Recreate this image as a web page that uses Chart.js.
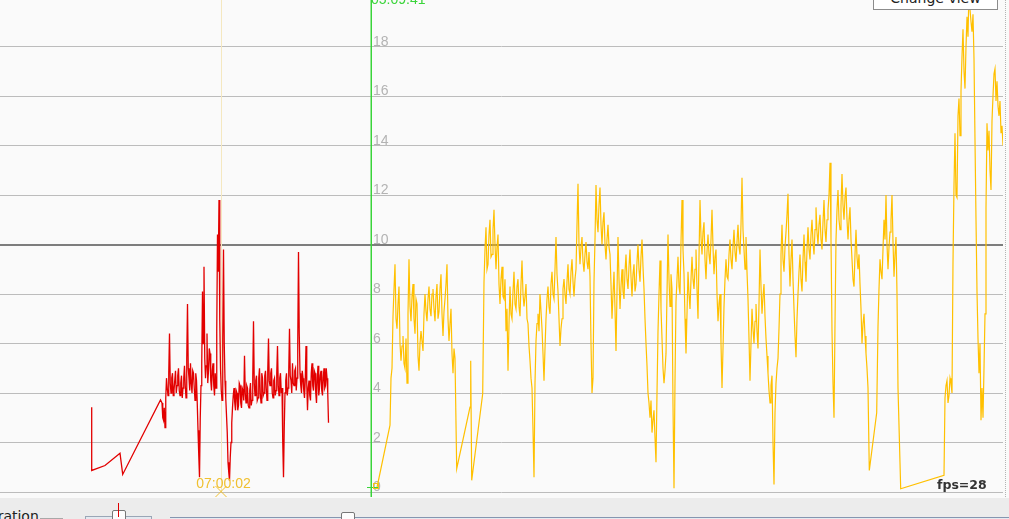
<!DOCTYPE html>
<html>
<head>
<meta charset="utf-8">
<script src="https://cdn.jsdelivr.net/npm/chart.js@4"></script>
<style>
  body { margin: 0; width: 1009px; height: 519px; overflow: hidden; position: relative; background: #fafafa; font-family: "DejaVu Sans", sans-serif; }
  #plot { position: absolute; left: 0; top: 0; }
  #rightEdge { position: absolute; left: 1005px; top: 0; height: 497px; border-left: 1px dotted #b4b4b4; }
  #changeView { position: absolute; left: 873px; top: -14px; width: 125px; height: 24px; box-sizing: border-box;
    border: 1px solid #8c8c8c; background: #fff; font-size: 14px; line-height: 22px; text-align: center; color: #222; }
  #bar { position: absolute; left: 0; top: 498px; width: 1009px; height: 21px; background: #ececec; overflow: hidden; }
  #bar .lbl { position: absolute; left: -22px; top: 10px; font-size: 14px; line-height: 16px; color: #222; white-space: nowrap; }
  #bar .grp { position: absolute; left: 40px; top: 20px; width: 23px; height: 1px; background: #a8a8a8; }
  #bar .box { position: absolute; left: 85px; top: 18px; width: 65px; height: 10px; border: 1px solid #9aa6b6; background: #e4e9f0; }
  #bar .track { position: absolute; left: 170px; top: 19px; width: 850px; height: 10px; border-top: 1px solid #8596b0; background: #e6eaf0; }
  #bar .thumb { position: absolute; width: 12px; height: 12px; border: 1px solid #777; border-radius: 2px; background: #fdfdfd; }
  #bar .mark { position: absolute; left: 118px; top: 5px; width: 1px; height: 14px; background: #e00000; }
</style>
</head>
<body>
<canvas id="plot" width="1009" height="498"></canvas>
<div id="rightEdge"></div>
<div id="changeView">Change view</div>
<div id="bar">
  <span class="lbl">Duration</span>
  <div class="grp"></div>
  <div class="box"></div>
  <div class="thumb" style="left:112px;top:12px"></div>
  <div class="mark"></div>
  <div class="track"></div>
  <div class="thumb" style="left:341px;top:14px"></div>
</div>
<script>
/**
 * Trace viewer snapshot - two recorded series over a time axis (minutes).
 */

// y grid values / tick labels
const Y_TICKS = [0, 2, 4, 6, 8, 10, 12, 14, 16, 18];
const Y_MAX = 19.88;
const T_MAX = 100.3;

// cursors
const GREEN_CURSOR_T = 37.1;
const GREEN_LABEL = '05:09:41';
const YELLOW_CURSOR_T = 22.05;
const YELLOW_LABEL = '07:00:02';
const FPS_TEXT = 'fps=28';

// red series: a few sparse points, then a busy stretch sampled every RED_DT minutes
const RED_LEAD_T = [9.17, 9.17, 10.5, 12.0, 12.27, 16.05];
const RED_LEAD_V = [3.42, 0.87, 1.07, 1.57, 0.71, 3.72];
const RED_T0 = 16.2;
const RED_DT = 0.075;
const redBusy = [
  3.6, 3.0, 2.9, 3.4, 2.6, 3.8, 4.6, 4.2, 3.9, 4.8,
  6.4, 4.4, 4.0, 4.6, 4.8, 3.9, 4.1, 4.5, 4.9, 4.0,
  4.3, 4.7, 5.0, 4.1, 3.9, 4.4, 4.7, 3.8, 4.2, 4.6,
  5.1, 4.3, 3.8, 5.4, 7.6, 5.0, 4.6, 4.1, 5.2, 4.4,
  4.0, 4.9, 4.8, 4.2, 3.7, 4.8, 4.5, 3.6, 2.5, 1.5,
  0.6, 3.0, 4.3, 5.2, 8.1, 6.0, 9.1, 5.4, 4.6, 5.1,
  6.4, 4.4, 4.9, 5.8, 5.6, 4.5, 4.1, 4.9, 5.2, 4.3,
  3.9, 4.8, 4.2, 6.5, 10.4, 8.9, 11.8, 7.0, 5.0, 4.1,
  3.7, 6.2, 9.8, 6.0, 4.5, 3.8, 3.1, 2.4, 1.2, 0.8,
  0.46, 1.4, 2.0, 2.8, 3.4, 3.9, 4.2, 3.6, 3.3, 4.1,
  4.0, 3.3, 3.5, 4.4, 4.3, 3.6, 3.4, 4.2, 4.1, 3.7,
  5.5, 4.0, 3.6, 4.3, 4.2, 3.5, 3.4, 4.1, 4.4, 3.5,
  3.7, 4.6, 6.9, 4.4, 3.9, 4.5, 4.7, 3.7, 3.8, 4.6,
  5.0, 4.0, 3.6, 4.8, 4.6, 3.9, 4.0, 4.7, 4.9, 4.2,
  3.7, 4.9, 6.2, 4.5, 4.3, 4.8, 5.0, 4.0, 3.8, 4.5,
  4.6, 3.9, 4.1, 4.8, 5.9, 4.3, 3.9, 4.6, 4.8, 4.0,
  4.2, 2.0, 0.6, 2.6, 4.0, 4.5, 4.8, 3.9, 4.2, 4.9,
  6.6, 4.7, 4.5, 4.0, 5.2, 4.4, 4.3, 4.9, 5.0, 4.1,
  4.6, 6.0, 9.7, 6.4, 4.8, 4.3, 4.0, 4.9, 4.6, 4.1,
  3.8, 4.5, 5.9, 4.4, 3.3, 4.2, 4.5, 3.9, 3.7, 4.8,
  5.2, 4.3, 4.1, 4.9, 4.8, 4.0, 3.6, 4.6, 5.1, 3.9,
  4.2, 4.7, 4.9, 4.1, 3.9, 4.6, 5.0, 4.2, 4.3, 5.0,
  4.6, 4.0, 2.8
];

// yellow series: busy runs sampled every YEL_DT minutes, joined by sparse points
const YEL_DT = 0.1;
const YEL_LEAD_T = [37.67, 39.0];
const YEL_LEAD_V = [0.13, 2.7];
const YEL_RUN1_T0 = 39.1;
const yelRun1 = [
  4.6, 5.0, 7.1, 8.2, 9.2, 7.0, 6.6, 7.6, 8.3, 6.0,
  5.3, 5.9, 6.3, 5.2, 5.0, 6.2, 4.4, 7.2, 9.4, 7.5,
  6.9, 7.9, 8.4, 7.0, 6.4, 7.8, 7.6, 5.5, 4.9, 6.0,
  6.5, 6.1, 5.7, 7.2, 8.0, 7.3, 6.9, 7.8, 8.3, 7.4,
  7.1, 8.0, 8.2, 7.4, 6.9, 7.9, 8.4, 7.0, 7.3, 8.2,
  8.8, 7.2, 6.3, 7.3, 7.8, 8.4, 9.2, 7.0, 6.1, 6.8,
  7.4, 5.6, 4.8, 5.8, 5.4
];
const YEL_GAP1_T = [45.67, 47.0, 47.07, 47.17, 48.27];
const YEL_GAP1_V = [0.94, 3.43, 5.3, 0.47, 3.97];
const YEL_RUN2_T0 = 48.4;
const yelRun2 = [
  8.5, 9.8, 10.7, 9.0, 9.2, 10.4, 11.0, 9.5, 9.6, 10.6, 11.4, 10.0, 9.0, 9.9, 10.4, 8.4, 7.6, 8.6, 9.1, 7.9,
  7.8, 8.6, 6.5, 7.4, 4.9, 6.8, 8.3, 7.2, 7.0, 8.1, 8.9, 7.6, 7.4, 8.3, 8.6, 7.5, 7.1, 8.4, 9.35, 8.0,
  7.5, 7.9, 8.4, 7.0, 6.8, 5.9, 5.3, 4.6, 4.2, 2.5, 0.6, 4.4, 6.1, 6.8, 7.2, 6.5, 8.0, 7.3, 6.6, 5.6,
  4.5, 5.8, 7.0, 7.8, 8.3, 7.5, 7.2, 8.4, 8.9, 8.0, 7.8, 9.0, 10.3, 8.8, 8.1, 7.0, 5.9, 6.6, 7.0, 8.2,
  8.6, 8.0, 7.6, 8.5, 9.2, 8.2, 8.0, 8.9, 9.4, 8.5, 7.9, 8.6, 9.0, 10.8, 12.45, 10.0, 9.2, 9.9, 10.3, 9.3,
  8.9, 9.6, 10.1, 9.3, 9.0, 9.7, 8.7, 6.0, 4.0, 4.6, 8.5, 10.2, 12.4, 11.0, 10.5, 11.6, 12.3, 10.8, 10.0, 10.9,
  11.3, 10.0, 9.4, 10.2, 10.8, 9.9, 9.6, 8.4, 7.0, 8.0, 8.9, 7.4, 5.7, 8.1, 10.3, 8.6, 7.4, 8.3, 9.0, 8.1,
  7.8, 8.9, 9.6, 8.6, 8.2, 9.1, 9.8, 8.7, 7.9, 8.8, 9.2, 8.1, 8.4, 9.3, 10.0, 9.0, 8.5, 9.5, 10.2, 9.1,
  8.2, 7.0, 6.0, 5.1, 4.0, 3.6, 3.0, 3.7, 2.4, 2.9, 3.3, 2.2, 1.2, 4.0, 6.5, 8.0, 9.35, 7.4, 6.2, 5.0,
  4.4, 4.9, 5.6, 8.0, 10.4, 8.6, 7.5, 8.8, 8.2, 3.5, 0.15, 4.5, 7.7, 8.6, 9.5, 8.3, 8.0, 10.1, 11.8, 9.8,
  8.8, 7.0, 5.6, 7.2, 8.9, 8.0, 7.4, 8.6, 9.5, 8.6, 8.2, 9.0, 9.8, 8.2, 7.0, 9.5, 11.8, 10.3, 9.6, 10.5,
  10.9, 9.4, 8.6, 9.7, 10.4, 9.6, 9.2, 10.2, 11.4, 9.9, 8.8, 9.5, 9.8, 8.0, 6.9, 7.6, 8.0, 6.0, 4.2, 5.8,
  7.5, 8.6, 9.4, 8.7, 8.6, 9.6, 10.2, 9.4, 9.0, 9.9, 10.6, 9.7, 9.3, 10.1, 10.8, 9.9, 9.6, 10.8, 12.7, 10.6,
  9.8, 9.0, 10.3, 8.9, 7.8, 6.2, 4.5, 6.0, 7.4, 6.6, 6.0, 6.9, 7.6, 6.5, 5.8, 7.6, 9.8, 8.3, 7.2, 7.9,
  8.4, 7.1, 6.2, 5.5, 4.8, 4.1, 3.6, 4.3, 4.7, 2.0, 0.3, 3.2, 4.4, 5.0, 5.4, 6.6, 8.0, 9.6, 10.8, 9.4,
  8.9, 9.9, 10.5, 11.2, 12.05, 9.6, 8.3, 9.4, 10.2, 8.6, 7.4, 6.3, 5.45, 7.0, 8.0, 8.9, 9.6, 8.6, 8.1, 9.4,
  10.4, 9.3, 8.5, 9.8, 10.7, 9.8, 9.4, 10.4, 11.0, 10.1, 9.6, 10.6, 11.5, 10.5, 10.0, 10.8, 11.2, 10.2, 9.8, 10.9,
  11.8, 10.6, 10.1, 11.0, 11.4, 12.0, 13.3, 10.2, 6.5, 4.4, 3.0, 6.8, 10.2, 11.4, 12.2, 11.0, 10.6, 11.6, 12.85, 11.6,
  11.0, 11.9, 12.3, 11.0, 10.2, 11.0, 11.5, 10.2, 9.4, 8.6, 8.3, 9.6, 10.6, 9.5, 9.0, 9.6, 8.4, 7.4, 6.0, 6.8,
  7.2, 6.3, 5.6, 5.0, 4.2
];
const YEL_GAP2_T = [86.93, 87.67];
const YEL_GAP2_V = [0.87, 3.2];
const YEL_RUN3_T0 = 87.8;
const yelRun3 = [
  6.7, 8.2, 9.4, 8.9, 8.6, 9.8, 11.0, 10.2, 12.0, 10.0,
  9.0, 9.9, 10.5, 11.0, 12.0, 10.1, 8.7, 9.6, 10.3, 8.0,
  4.2
];
const YEL_GAP3_T = [90.07, 94.4];
const YEL_GAP3_V = [0.13, 0.67];
const YEL_RUN4_T0 = 94.5;
const yelRun4 = [
  3.8, 4.3, 4.5, 3.6, 3.9, 4.6, 4.4, 4.0, 9.3, 12.4,
  14.5, 12.0, 11.9, 15.2, 15.9, 14.4, 16.2, 17.6, 18.7, 17.0,
  16.3, 18.0, 19.2, 18.4, 20.3, 19.5, 19.0, 18.6, 19.3, 17.5,
  14.2, 11.0, 8.1, 6.2, 4.8, 6.0, 2.9, 4.2, 3.0, 5.0,
  7.2, 11.5, 14.9, 13.8, 14.6, 13.0, 12.2, 15.0, 16.0, 16.9,
  17.1, 15.8, 16.6, 15.6, 15.2, 15.8, 14.5, 14.8, 14.0
];

function paired(times, values) {
  return times.map((t, i) => ({ x: t, y: values[i] }));
}

function sampled(t0, dt, values) {
  return values.map((v, i) => ({ x: +(t0 + i * dt).toFixed(3), y: v }));
}

const redPoints = [
  ...paired(RED_LEAD_T, RED_LEAD_V),
  ...sampled(RED_T0, RED_DT, redBusy)
];

const yellowPoints = [
  ...paired(YEL_LEAD_T, YEL_LEAD_V),
  ...sampled(YEL_RUN1_T0, YEL_DT, yelRun1),
  ...paired(YEL_GAP1_T, YEL_GAP1_V),
  ...sampled(YEL_RUN2_T0, YEL_DT, yelRun2),
  ...paired(YEL_GAP2_T, YEL_GAP2_V),
  ...sampled(YEL_RUN3_T0, YEL_DT, yelRun3),
  ...paired(YEL_GAP3_T, YEL_GAP3_V),
  ...sampled(YEL_RUN4_T0, YEL_DT, yelRun4)
];

// cursors, in-plot tick labels and the fps readout
const overlay = {
  id: 'overlay',
  beforeDatasetsDraw(chart) {
    const { ctx, chartArea, scales: { x, y } } = chart;
    ctx.save();
    const yx = Math.round(x.getPixelForValue(YELLOW_CURSOR_T)) + 0.5;
    ctx.strokeStyle = '#f5e8c0';
    ctx.lineWidth = 1;
    ctx.beginPath();
    ctx.moveTo(yx, 0);
    ctx.lineTo(yx, chartArea.bottom);
    ctx.stroke();

    ctx.font = '14px "Liberation Sans"';
    ctx.fillStyle = '#b3b3b3';
    ctx.textAlign = 'left';
    ctx.textBaseline = 'alphabetic';
    const lx = x.getPixelForValue(GREEN_CURSOR_T) + 2;
    Y_TICKS.forEach(v => ctx.fillText(String(v), lx, Math.round(y.getPixelForValue(v)) - 1));
    ctx.restore();
  },
  afterDatasetsDraw(chart) {
    const { ctx, scales: { x } } = chart;
    ctx.save();
    // green cursor
    const gx = x.getPixelForValue(GREEN_CURSOR_T);
    ctx.fillStyle = '#3ad43a';
    ctx.fillRect(gx - 0.5, 0, 1.5, 497);
    ctx.font = '14px "Liberation Sans"';
    ctx.textAlign = 'left';
    ctx.fillText(GREEN_LABEL, gx, 4);
    // start marker at the cursor foot
    ctx.strokeStyle = '#3ad43a';
    ctx.lineWidth = 1;
    ctx.beginPath();
    ctx.moveTo(gx - 4, 487.5);
    ctx.lineTo(gx + 7, 487.5);
    ctx.stroke();
    ctx.strokeStyle = '#f3c21a';
    ctx.strokeRect(gx + 2.5, 483.5, 5, 5);

    // yellow cursor label and X
    const yx = Math.round(x.getPixelForValue(YELLOW_CURSOR_T)) + 0.5;
    ctx.fillStyle = '#f0c030';
    ctx.textAlign = 'center';
    ctx.fillText(YELLOW_LABEL, yx + 2, 488);
    ctx.strokeStyle = '#f0c030';
    ctx.beginPath();
    ctx.moveTo(yx - 6, 486);
    ctx.lineTo(yx + 5, 497);
    ctx.moveTo(yx + 5, 486);
    ctx.lineTo(yx - 6, 497);
    ctx.stroke();

    // fps
    ctx.font = 'bold 12.5px "DejaVu Sans"';
    ctx.fillStyle = '#333';
    ctx.textAlign = 'left';
    ctx.fillText(FPS_TEXT, 937, 489);
    ctx.restore();
  }
};

new Chart(document.getElementById('plot'), {
  type: 'line',
  data: {
    datasets: [
      {
        label: 'red',
        data: redPoints,
        borderColor: 'rgb(226, 0, 0)',
        borderWidth: 1.3,
        pointRadius: 0,
        tension: 0,
        fill: false
      },
      {
        label: 'yellow',
        data: yellowPoints,
        borderColor: 'rgb(255, 192, 0)',
        borderWidth: 1.2,
        pointRadius: 0,
        tension: 0,
        fill: false
      }
    ]
  },
  options: {
    responsive: false,
    animation: false,
    devicePixelRatio: 1,
    layout: { padding: { left: 0, right: 6, top: 0, bottom: 6 } },
    plugins: {
      legend: { display: false },
      tooltip: { enabled: false }
    },
    scales: {
      x: { type: 'linear', min: 0, max: T_MAX, display: false },
      y: {
        type: 'linear',
        min: 0,
        max: Y_MAX,
        afterBuildTicks: scale => { scale.ticks = Y_TICKS.map(v => ({ value: v })); },
        ticks: { display: false },
        border: { display: false },
        grid: {
          drawTicks: false,
          color: c => (c.tick && c.tick.value === 10 ? '#7d7d7d' : '#bcbcbc'),
          lineWidth: c => (c.tick && c.tick.value === 10 ? 2 : 1)
        }
      }
    }
  },
  plugins: [overlay]
});
</script>
</body>
</html>
